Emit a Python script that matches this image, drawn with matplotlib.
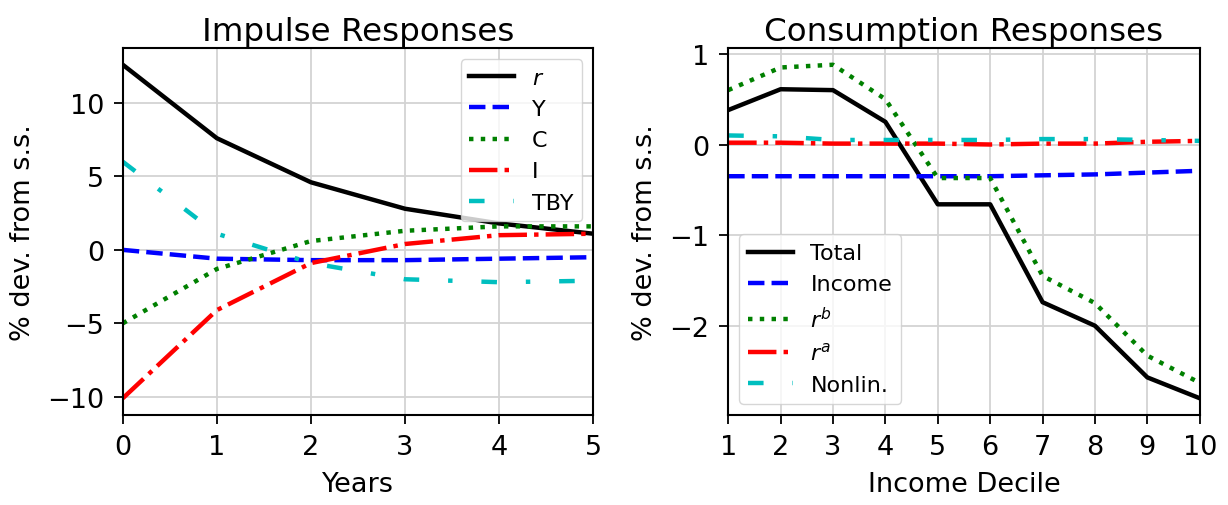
import numpy as np
import matplotlib.pyplot as plt

plt.rcParams['font.size'] = 19.5
plt.rcParams['axes.linewidth'] = 1.5
plt.rcParams['xtick.major.size'] = 6.5
plt.rcParams['ytick.major.size'] = 6.5
plt.rcParams['xtick.major.width'] = 1.3
plt.rcParams['ytick.major.width'] = 1.3
plt.rcParams['xtick.major.pad'] = 7
plt.rcParams['ytick.major.pad'] = 7
plt.rcParams['axes.labelpad'] = 8

years = [0, 1, 2, 3, 4, 5]
r_irf = [12.6, 7.6, 4.6, 2.8, 1.8, 1.1]
y_irf = [0.0, -0.6, -0.7, -0.7, -0.6, -0.5]
c_irf = [-5.0, -1.3, 0.6, 1.3, 1.6, 1.6]
i_irf = [-10.1, -4.1, -0.9, 0.4, 1.0, 1.1]
tby_irf = [6.0, 1.1, -0.9, -2.0, -2.2, -2.1]

deciles = [1, 2, 3, 4, 5, 6, 7, 8, 9, 10]
total = [0.38, 0.61, 0.60, 0.25, -0.66, -0.66, -1.74, -2.00, -2.57, -2.80]
income = [-0.35, -0.35, -0.35, -0.35, -0.35, -0.35, -0.34, -0.33, -0.31, -0.29]
rb = [0.60, 0.85, 0.88, 0.50, -0.37, -0.37, -1.45, -1.75, -2.33, -2.63]
ra = [0.02, 0.02, 0.01, 0.01, 0.01, 0.0, 0.01, 0.01, 0.03, 0.04]
nonlin = [0.10, 0.09, 0.05, 0.05, 0.05, 0.05, 0.06, 0.06, 0.05, 0.04]

fig = plt.figure(figsize=(12.28, 5.06), dpi=100)
ax1 = fig.add_axes([0.100, 0.178, 0.383, 0.725])
ax2 = fig.add_axes([0.593, 0.178, 0.384, 0.725])

lw = 3.2
cyan_dash = (0, (3.5, 6.5, 1, 6.5))
grid_kw = dict(color='#d3d3d3', lw=1.3)

ax1.plot(years, r_irf, 'k-', lw=lw, label='$r$')
ax1.plot(years, y_irf, 'b--', lw=lw, label='Y')
ax1.plot(years, c_irf, 'g:', lw=lw, label='C')
ax1.plot(years, i_irf, 'r-.', lw=lw, label='I')
ax1.plot(years, tby_irf, color='c', ls=cyan_dash, lw=lw, label='TBY')
ax1.set_xlim(0, 5)
ax1.set_title('Impulse Responses', fontsize=23.4)
ax1.set_xlabel('Years')
ax1.set_ylabel('% dev. from s.s.')
ax1.grid(True, **grid_kw)
ax1.legend(loc='upper right', fontsize=16)

ax2.plot(deciles, total, 'k-', lw=lw, label='Total')
ax2.plot(deciles, income, 'b--', lw=lw, label='Income')
ax2.plot(deciles, rb, 'g:', lw=lw, label='$r^b$')
ax2.plot(deciles, ra, 'r-.', lw=lw, label='$r^a$')
ax2.plot(deciles, nonlin, color='c', ls=cyan_dash, lw=lw, label='Nonlin.')
ax2.set_xlim(1, 10)
ax2.set_xticks(deciles)
ax2.set_title('Consumption Responses', fontsize=23.4)
ax2.set_xlabel('Income Decile')
ax2.set_ylabel('% dev. from s.s.')
ax2.grid(True, **grid_kw)
ax2.legend(loc='lower left', fontsize=16)

fig.savefig('out.png', dpi=100)
